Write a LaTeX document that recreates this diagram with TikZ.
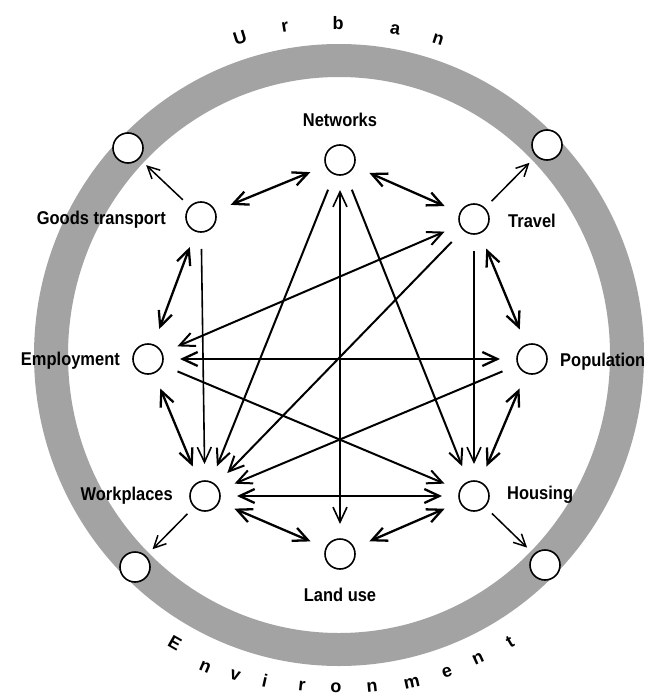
\documentclass[tikz,border=0pt]{standalone}
\usepackage{fontspec}
\setmainfont{Liberation Sans}
\usetikzlibrary{arrows.meta,calc}
\newcommand\conn[4]{\draw[#1] ($(#2)!#4!(#3)$) -- ($(#3)!#4!(#2)$);}
\newcommand\cnd[1]{\scalebox{0.89}[1]{#1}}
\begin{document}
\begin{tikzpicture}[x=1pt,y=-1pt,
  bub/.style={circle,draw,fill=white,line width=1.6pt,minimum size=30pt,inner sep=0pt},
  lab/.style={font=\bfseries\fontsize{18.5}{20}\selectfont,inner sep=0pt},
  arc/.style={font=\bfseries\fontsize{18}{20}\selectfont,inner sep=0pt},
  bigtip/.tip={Straight Barb[length=15pt,width=14pt]},
  smalltip/.tip={Straight Barb[length=12pt,width=12pt]},
  dbl/.style={line width=2.3pt,bigtip-bigtip},
  one/.style={line width=2pt,-bigtip},
  vert/.style={line width=1.6pt,-bigtip},
  outarrow/.style={line width=1.5pt,-smalltip}]
\useasboundingbox (0,0) rectangle (649,698);
% ring
\fill[black!36,even odd rule] (339,355) ellipse [x radius=305pt,y radius=311pt]
  (339,355) ellipse [x radius=271pt,y radius=278pt];
% outer circles on the ring
\node[bub] (otl) at (128,148) {};
\node[bub] (otr) at (547,145) {};
\node[bub] (obl) at (135,567) {};
\node[bub] (obr) at (545,565) {};
% main circles
\node[bub] (nw) at (340,160) {};
\node[bub] (gt) at (201,217) {};
\node[bub] (tr) at (474,219) {};
\node[bub] (em) at (148,359) {};
\node[bub] (po) at (532,359) {};
\node[bub] (wp) at (205,496) {};
\node[bub] (hs) at (474,496) {};
\node[bub] (lu) at (340,554) {};
% labels
\node[lab,anchor=base] (lnw) at (340,126) {\cnd{Networks}};
\node[lab,anchor=base east] (lgt) at (166,224) {\cnd{Goods transport}};
\node[lab,anchor=base west] (ltr) at (508,227) {\cnd{Travel}};
\node[lab,anchor=base east] (lem) at (120,365) {\cnd{Employment}};
\node[lab,anchor=base west] (lpo) at (560,366) {\cnd{Population}};
\node[lab,anchor=base east] (lwp) at (173,500) {\cnd{Workplaces}};
\node[lab,anchor=base west] (lhs) at (507,499) {\cnd{Housing}};
\node[lab,anchor=base] (llu) at (340,601) {\cnd{Land use}};
% Urban
\node[arc,rotate=17.3] (u1) at (240,38) {U};
\node[arc,rotate=9.3] (u2) at (285,27) {r};
\node[arc,rotate=0] (u3) at (338,23) {b};
\node[arc,rotate=-9.8] (u4) at (395,30) {a};
\node[arc,rotate=-17.4] (u5) at (438,40) {n};
% Environment
\node[arc,rotate=-29.7] (e1) at (175,643) {E};
\node[arc,rotate=-23.2] (e2) at (205,667) {n};
\node[arc,rotate=-17.9] (e3) at (235,676) {v};
\node[arc,rotate=-12.7] (e4) at (265,681) {i};
\node[arc,rotate=-6.3] (e5) at (302,686) {r};
\node[arc,rotate=-0.7] (e6) at (336,688) {o};
\node[arc,rotate=5.6] (e7) at (372,687) {n};
\node[arc,rotate=12.5] (e8) at (412,683) {m};
\node[arc,rotate=18.8] (e9) at (447,672) {e};
\node[arc,rotate=24.5] (e10) at (478,659) {n};
\node[arc,rotate=30.8] (e11) at (510,642) {t};
% outward arrows
\conn{outarrow}{gt}{otl}{25pt}
\conn{outarrow}{tr}{otr}{25pt}
\conn{outarrow}{wp}{obl}{25pt}
\conn{outarrow}{hs}{obr}{25pt}
% double arrows around
\conn{dbl}{nw}{gt}{32pt}
\conn{dbl}{nw}{tr}{32pt}
\conn{dbl}{gt}{em}{32pt}
\conn{dbl}{tr}{po}{32pt}
\conn{dbl}{em}{wp}{32pt}
\conn{dbl}{po}{hs}{32pt}
\conn{dbl}{wp}{lu}{32pt}
\conn{dbl}{hs}{lu}{32pt}
\conn{dbl}{wp}{hs}{32pt}
\conn{dbl}{em}{po}{32pt}
\conn{line width=2pt,bigtip-bigtip}{em}{tr}{32pt}
\conn{line width=1.6pt,bigtip-bigtip}{nw}{lu}{30pt}
% single crossing arrows
\conn{one}{nw}{wp}{32pt}
\conn{one}{nw}{hs}{32pt}
\conn{one}{tr}{wp}{32pt}
\conn{one}{po}{wp}{32pt}
\conn{one}{em}{hs}{32pt}
\conn{vert}{gt}{wp}{32pt}
\conn{vert}{tr}{hs}{32pt}
\end{tikzpicture}
\end{document}
